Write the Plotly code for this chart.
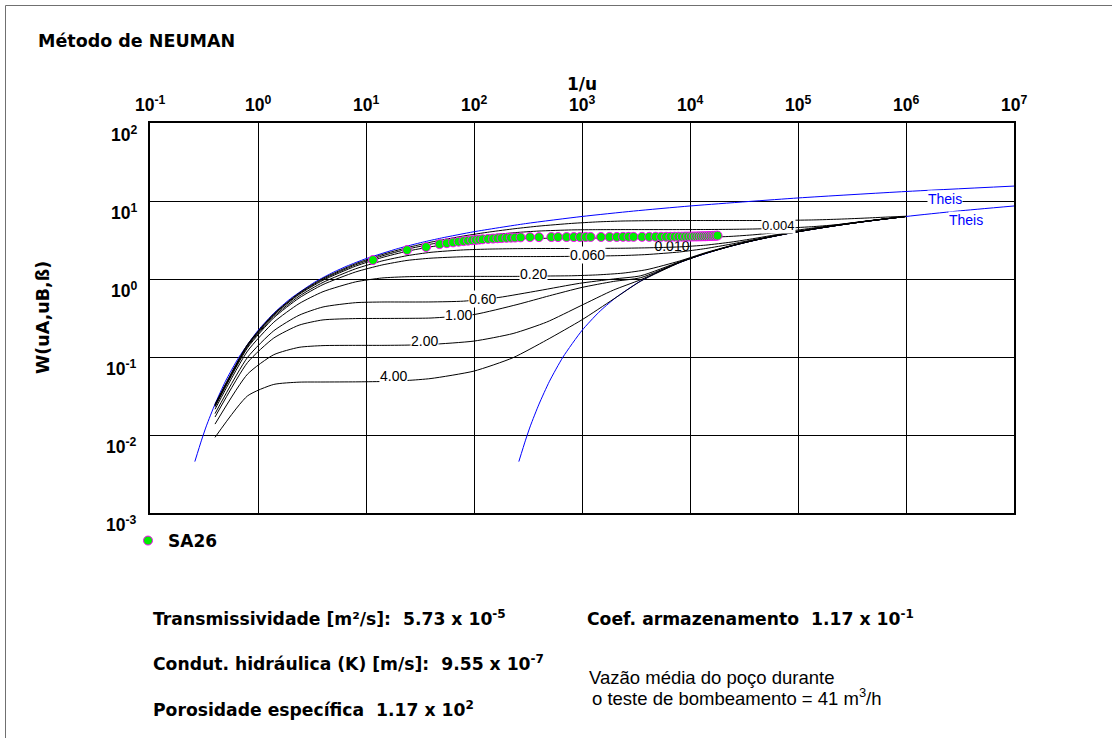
import plotly.graph_objects as go

# ---------------- data ----------------
# Theis well function W(u) against 1/u (type A branch)
theis_a_x = [0.26, 0.3, 0.333, 0.4, 0.5, 0.667, 1, 1.43, 2, 3.33, 5, 6.67, 10, 20, 33.3, 50,
             100, 300, 1000, 3000, 1e4, 1e5, 1e6, 1e7]
theis_a_w = [0.00456, 0.00859, 0.0131, 0.0249, 0.0489, 0.100, 0.219, 0.374, 0.560, 0.906, 1.223,
             1.465, 1.823, 2.468, 2.959, 3.355, 4.038, 5.129, 6.332, 7.429, 8.633, 10.94, 13.24, 15.54]

# Theis well function, type B branch (late time)
theis_b_x = [260, 300, 333, 400, 500, 667, 1000, 1430, 2000, 3330, 5000, 6670, 1e4, 2e4, 3.33e4,
             5e4, 1e5, 3e5, 1e6, 3e6, 1e7]
theis_b_w = [0.00456, 0.00859, 0.0131, 0.0249, 0.0489, 0.100, 0.219, 0.374, 0.560, 0.906, 1.223,
             1.465, 1.823, 2.468, 2.959, 3.355, 4.038, 5.129, 6.332, 7.429, 8.633]

# Neuman type curves W(uA,uB,beta), one list pair per beta
x_0001 = [0.4, 0.8, 1.4, 2.4, 4, 8, 14, 24, 40, 80, 140, 240, 400, 800, 1400, 2400, 4000, 8000,
          14000, 24000, 40000, 8e4, 1.4e5, 2.4e5, 4e5, 6e5, 1e6]
w_0001 = [0.0248, 0.145, 0.358, 0.662, 1.02, 1.57, 2.05, 2.52, 2.97, 3.56, 4.01, 4.42, 4.77, 5.16,
          5.40, 5.54, 5.59, 5.62, 5.62, 5.62, 5.62, 5.65, 5.72, 5.85, 6.02, 6.18, 6.38]

x_0004 = [0.4, 0.8, 1.4, 2.4, 4, 8, 14, 24, 40, 80, 140, 240, 400, 800, 1400, 2400, 4000, 8000,
          1.4e4, 2.4e4, 4e4, 8e4, 1.4e5, 2.4e5, 4e5, 6e5, 1e6]
w_0004 = [0.0243, 0.142, 0.352, 0.648, 0.992, 1.52, 1.97, 2.41, 2.80, 3.30, 3.65, 3.93, 4.12, 4.26,
          4.29, 4.30, 4.30, 4.30, 4.31, 4.33, 4.38, 4.50, 4.70, 5.00, 5.46, 5.85, 6.34]

x_0010 = [0.4, 0.8, 1.4, 2.4, 4, 8, 14, 24, 40, 80, 140, 240, 400, 800, 1400, 2400, 4000, 8000,
          1.4e4, 2.4e4, 4e4, 8e4, 1.4e5, 2.4e5, 4e5, 6e5, 1e6]
w_0010 = [0.0241, 0.140, 0.345, 0.633, 0.963, 1.46, 1.88, 2.27, 2.59, 2.97, 3.16, 3.28, 3.32, 3.34,
          3.35, 3.35, 3.36, 3.38, 3.42, 3.52, 3.70, 4.08, 4.52, 5.00, 5.47, 5.84, 6.34]

x_0030 = [0.4, 0.8, 1.4, 2.4, 4, 8, 14, 24, 40, 80, 140, 240, 400, 800, 1400, 2400, 4000, 8000,
          1.4e4, 2.4e4, 4e4, 8e4, 1.4e5, 2.4e5, 4e5, 6e5, 1e6]
w_0030 = [0.0235, 0.136, 0.331, 0.601, 0.905, 1.35, 1.70, 1.99, 2.20, 2.36, 2.42, 2.45, 2.46, 2.46,
          2.47, 2.48, 2.51, 2.58, 2.72, 2.97, 3.32, 3.92, 4.42, 4.94, 5.44, 5.83, 6.34]

x_0060 = [0.4, 0.8, 1.4, 2.4, 4, 8, 14, 24, 40, 80, 140, 240, 400, 800, 1400, 2400, 4000, 8000,
          1.4e4, 2.4e4, 4e4, 8e4, 1.4e5, 2.4e5, 4e5, 6e5, 1e6]
w_0060 = [0.0230, 0.131, 0.318, 0.570, 0.849, 1.23, 1.51, 1.73, 1.85, 1.93, 1.94, 1.94, 1.94, 1.95,
          1.97, 2.00, 2.06, 2.22, 2.46, 2.80, 3.22, 3.86, 4.39, 4.92, 5.43, 5.83, 6.34]

x_020 = [0.4, 0.8, 1.4, 2.4, 4, 8, 14, 24, 40, 80, 140, 240, 400, 800, 1400, 2400, 4000, 8000,
         1.4e4, 2.4e4, 4e4, 8e4, 1.4e5, 2.4e5, 4e5, 6e5, 1e6]
w_020 = [0.0214, 0.119, 0.279, 0.483, 0.688, 0.918, 1.03, 1.07, 1.08, 1.08, 1.08, 1.08, 1.09, 1.10,
         1.13, 1.19, 1.32, 1.70, 2.18, 2.68, 3.16, 3.83, 4.38, 4.91, 5.42, 5.82, 6.33]

x_060 = [0.4, 0.8, 1.4, 2.4, 4, 8, 14, 24, 40, 80, 170, 400, 950, 1950, 3500, 8000, 1.4e4, 2.4e4,
         4e4, 8e4, 1.4e5, 2.4e5, 4e5, 6e5, 1e6]
w_060 = [0.0188, 0.0988, 0.217, 0.343, 0.438, 0.497, 0.507, 0.507, 0.508, 0.52, 0.58, 0.71, 0.88,
         1.00, 1.10, 1.66, 2.15, 2.66, 3.15, 3.83, 4.37, 4.91, 5.42, 5.82, 6.33]

x_100 = [0.4, 0.8, 1.4, 2.4, 4, 8, 14, 24, 40, 100, 250, 500, 1000, 1950, 3500, 8000, 1.4e4,
         2.4e4, 4e4, 8e4, 1.4e5, 2.4e5, 4e5, 6e5, 1e6]
w_100 = [0.0170, 0.0849, 0.175, 0.256, 0.299, 0.311, 0.312, 0.313, 0.316, 0.35, 0.47, 0.61, 0.78,
         0.93, 1.04, 1.64, 2.14, 2.65, 3.15, 3.83, 4.37, 4.91, 5.42, 5.82, 6.33]

x_200 = [0.4, 0.8, 1.4, 2.4, 4, 8, 14, 24, 40, 100, 230, 470, 960, 1950, 3500, 8000, 1.4e4,
         2.4e4, 4e4, 8e4, 1.4e5, 2.4e5, 4e5, 6e5, 1e6]
w_200 = [0.0138, 0.0603, 0.107, 0.133, 0.140, 0.141, 0.141, 0.142, 0.145, 0.16, 0.20, 0.28, 0.45,
         0.72, 0.98, 1.63, 2.14, 2.65, 3.15, 3.83, 4.37, 4.91, 5.42, 5.82, 6.33]

x_400 = [0.4, 0.8, 1.4, 2.4, 4, 8, 14, 24, 40, 100, 230, 470, 1000, 1950, 3500, 8000, 1.4e4,
         2.4e4, 4e4, 8e4, 1.4e5, 2.4e5, 4e5, 6e5, 1e6]
w_400 = [0.00933, 0.0317, 0.0445, 0.0476, 0.0478, 0.0480, 0.0485, 0.050, 0.053, 0.066, 0.098,
         0.165, 0.30, 0.55, 0.94, 1.62, 2.13, 2.64, 3.14, 3.82, 4.37, 4.91, 5.42, 5.82, 6.33]

# observation well SA26 (matched drawdown)
sa26_x = [11.6, 24, 36, 48, 56, 64, 72, 80, 88, 96, 104, 112, 120, 135, 150, 165, 180, 200, 220,
          240, 270, 330, 400, 520, 600, 720, 840, 960, 1080, 1200, 1500, 1800, 2100, 2400, 2700,
          3000, 3600, 4200, 4800, 5400, 6000, 6600, 7200, 7800, 8400, 9000, 9600, 10200, 10800,
          11400, 12000, 12600, 13200, 13800, 14400, 15000, 15600, 16200, 16800, 17400, 18000]
sa26_w = [1.75, 2.35, 2.57, 2.80, 2.88, 2.95, 3.01, 3.06, 3.10, 3.14, 3.17, 3.20, 3.23, 3.27,
          3.30, 3.33, 3.35, 3.37, 3.39, 3.40, 3.42, 3.44, 3.44, 3.45, 3.45, 3.45, 3.45, 3.45,
          3.46, 3.46, 3.46, 3.46, 3.46, 3.47, 3.47, 3.47, 3.47, 3.47, 3.48, 3.48, 3.48, 3.48,
          3.49, 3.49, 3.49, 3.50, 3.50, 3.50, 3.51, 3.51, 3.52, 3.52, 3.53, 3.53, 3.54, 3.55,
          3.56, 3.57, 3.58, 3.59, 3.60]

x_ticks = [-1, 0, 1, 2, 3, 4, 5, 6, 7]
y_ticks = [-3, -2, -1, 0, 1, 2]

# ---------------- figure ----------------
W, H = 1112, 738
L, R, T, B = 150, 98, 123, 225
PW, PH = W - L - R, H - T - B


def px_x(px):
    return (px - L) / PW


def px_y(py):
    return (H - B - py) / PH


BOLD = "DejaVu Sans"
ARIAL = "Liberation Sans"

fig = go.Figure()

curves = [(x_0001, w_0001), (x_0004, w_0004), (x_0010, w_0010), (x_0030, w_0030),
          (x_0060, w_0060), (x_020, w_020), (x_060, w_060), (x_100, w_100),
          (x_200, w_200), (x_400, w_400)]

for tx, tw in [(theis_a_x, theis_a_w), (theis_b_x, theis_b_w)]:
    fig.add_trace(go.Scatter(x=tx, y=tw, mode="lines",
                             line=dict(color="#0000ff", width=1, shape="spline", smoothing=0.6),
                             showlegend=False, hoverinfo="skip"))
for cx, cw in curves:
    fig.add_trace(go.Scatter(x=cx, y=cw, mode="lines",
                             line=dict(color="black", width=1, shape="spline", smoothing=0.6),
                             showlegend=False, hoverinfo="skip"))

# beta label that sits under the observation points
fig.add_trace(go.Scatter(x=[10 ** 3.833], y=[10 ** 0.41], mode="text", text=["0.010"],
                         textfont=dict(family=ARIAL, size=14, color="black"),
                         showlegend=False, hoverinfo="skip"))

fig.add_trace(go.Scatter(x=sa26_x, y=sa26_w, mode="markers", name="<b>SA26</b>",
                         marker=dict(color="#00ee00", size=9,
                                     line=dict(color="#ff00ff", width=1))))

ann = []
# curve labels: (text, log10 x, log10 W, colour, font size)
curve_labels = [("0.004", 4.815, 0.68, "black", 13), ("0.060", 3.05, 0.31, "black", 14),
                ("0.20", 2.55, 0.06, "black", 14), ("0.60", 2.08, -0.25, "black", 14),
                ("1.00", 1.86, -0.46, "black", 14), ("2.00", 1.54, -0.79, "black", 14),
                ("4.00", 1.25, -1.24, "black", 14), ("Theis", 6.36, 1.03, "#0000ff", 14),
                ("Theis", 6.555, 0.756, "#0000ff", 14)]
for txt, lx, ly, col, fs in curve_labels:
    ann.append(dict(x=lx, y=ly, xref="x", yref="y", text=txt, showarrow=False,
                    font=dict(family=ARIAL, size=fs, color=col), bgcolor="white",
                    borderpad=0))

for k in x_ticks:
    ann.append(dict(x=k, y=1, xref="x", yref="paper", yshift=19, yanchor="middle",
                    text=f"<b>10<sup>{k}</sup></b>", showarrow=False,
                    font=dict(family=ARIAL, size=17.5, color="black")))
for k in y_ticks:
    ann.append(dict(x=0, y=k, xref="paper", yref="y", xshift=-11, yshift=-11,
                    xanchor="right", yanchor="middle",
                    text=f"<b>10<sup>{k}</sup></b>", showarrow=False,
                    font=dict(family=ARIAL, size=17.5, color="black")))

ann.append(dict(x=3, y=1, xref="x", yref="paper", yshift=39, yanchor="middle",
                text="<b>1/u</b>", showarrow=False, font=dict(family=BOLD, size=17, color="black")))
ann.append(dict(x=px_x(43), y=px_y(318), xref="paper", yref="paper", textangle=-90,
                xanchor="center", yanchor="middle",
                text="<b>W(uA,uB,ß)</b>", showarrow=False,
                font=dict(family=BOLD, size=17.5, color="black")))
ann.append(dict(x=px_x(36), y=px_y(41), xref="paper", yref="paper", xanchor="left",
                yanchor="middle", text="<b>Método de NEUMAN</b>", showarrow=False,
                font=dict(family=BOLD, size=17.5, color="black")))

info = [("Transmissividade [m²/s]:  5.73 x 10<sup>-5</sup>", 151, 618),
        ("Condut. hidráulica (K) [m/s]:  9.55 x 10<sup>-7</sup>", 151, 663),
        ("Porosidade específica  1.17 x 10<sup>2</sup>", 151, 709),
        ("Coef. armazenamento  1.17 x 10<sup>-1</sup>", 585, 618)]
for txt, tx, ty in info:
    ann.append(dict(x=px_x(tx), y=px_y(ty), xref="paper", yref="paper", xanchor="left",
                    yanchor="middle", text=f"<b>{txt}</b>", showarrow=False,
                    font=dict(family=BOLD, size=17.2, color="black")))
ann.append(dict(x=px_x(587), y=px_y(677), xref="paper", yref="paper", xanchor="left",
                yanchor="middle", text="Vazão média do poço durante", showarrow=False,
                font=dict(family=ARIAL, size=18.5, color="black")))
ann.append(dict(x=px_x(590), y=px_y(697), xref="paper", yref="paper", xanchor="left",
                yanchor="middle", text="o teste de bombeamento = 41 m<sup>3</sup>/h",
                showarrow=False, font=dict(family=ARIAL, size=18.5, color="black")))

shapes = [
    dict(type="line", xref="paper", yref="paper", x0=px_x(5.5), x1=px_x(W + 5),
         y0=px_y(5.5), y1=px_y(5.5), line=dict(color="#707070", width=1)),
    dict(type="line", xref="paper", yref="paper", x0=px_x(5.5), x1=px_x(5.5),
         y0=px_y(5.5), y1=px_y(H + 5), line=dict(color="#707070", width=1)),
]

axis_common = dict(type="log", showgrid=True, gridcolor="black", gridwidth=1,
                   showline=True, linecolor="black", linewidth=2, mirror=True,
                   ticks="", showticklabels=False, dtick=1)

fig.update_layout(
    width=W, height=H, autosize=False,
    margin=dict(l=L, r=R, t=T, b=B),
    paper_bgcolor="white", plot_bgcolor="white",
    xaxis=dict(range=[-1, 7], **axis_common),
    yaxis=dict(range=[-3, 2], **axis_common),
    annotations=ann, shapes=shapes,
    showlegend=True,
    legend=dict(x=px_x(128), y=px_y(541), xanchor="left", yanchor="middle",
                font=dict(family=BOLD, size=17, color="black"),
                bgcolor="rgba(0,0,0,0)", borderwidth=0),
)

fig.write_html("out.html")
